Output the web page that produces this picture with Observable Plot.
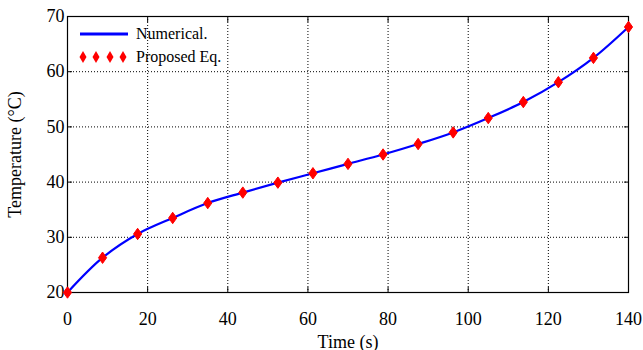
<!DOCTYPE html>
<html>
<head>
<meta charset="utf-8">
<script src="https://cdn.jsdelivr.net/npm/d3@7"></script>
<script src="https://cdn.jsdelivr.net/npm/@observablehq/plot@0.6"></script>
<style>
  html, body { margin: 0; padding: 0; background: white; }
  #wrap { position: relative; width: 643px; height: 350px; }
  #chart svg text { font-family: "Liberation Serif", "Times New Roman", serif !important; font-variant-numeric: normal !important; font-size: 18px !important; }
  #legend { position: absolute; left: 78px; top: 22px; font-family: "Liberation Serif", serif; font-size: 16px; color: black; }
  #legend .row { display: flex; align-items: center; height: 23px; }
  #legend svg { margin-right: 6px; }
</style>
</head>
<body>
<div id="wrap">
  <div id="chart"></div>
  <div id="legend"></div>
</div>
<script>
// Data
const timeS = [0, 8.75, 17.5, 26.25, 35, 43.75, 52.5, 61.25, 70, 78.75, 87.5, 96.25, 105, 113.75, 122.5, 131.25, 140];
const numericalT = [20, 26.3, 30.6, 33.5, 36.2, 38.1, 39.9, 41.6, 43.3, 45.0, 46.9, 49.0, 51.6, 54.5, 58.1, 62.5, 68.1];
const proposedT = [20, 26.3, 30.6, 33.5, 36.2, 38.1, 39.9, 41.6, 43.3, 45.0, 46.9, 49.0, 51.6, 54.5, 58.1, 62.5, 68.1];
const xTicks = [0, 20, 40, 60, 80, 100, 120, 140];
const yTicks = [20, 30, 40, 50, 60, 70];
const seriesNames = ["Numerical.", "Proposed Eq."];

const lineData = timeS.map((t, i) => ({t, v: numericalT[i]}));
const dotData = timeS.map((t, i) => ({t, v: proposedT[i]}));

const tallDiamond = {
  draw(context, size) {
    const r = Math.sqrt(size) / 2;
    context.moveTo(0, -r * 1.4);
    context.lineTo(r, 0);
    context.lineTo(0, r * 1.4);
    context.lineTo(-r, 0);
    context.closePath();
  }
};

const font = "Liberation Serif";
const chart = Plot.plot({
  width: 643,
  height: 350,
  marginLeft: 67,
  marginRight: 15,
  marginTop: 16,
  marginBottom: 58,
  style: {fontFamily: font, fontSize: "18px", color: "black", background: "white", overflow: "visible"},
  x: {domain: [0, 140]},
  y: {domain: [20, 70]},
  marks: [
    Plot.gridX(xTicks, {stroke: "black", strokeOpacity: 1, strokeDasharray: "1,2"}),
    Plot.gridY(yTicks, {stroke: "black", strokeOpacity: 1, strokeDasharray: "1,2"}),
    Plot.axisX(xTicks, {tickSize: 0, tickPadding: 20, fontSize: 18, fontFamily: font, label: null}),
    Plot.axisX({ticks: [], tickSize: 0, fontSize: 18, fontFamily: font, label: "Time (s)", labelAnchor: "center", labelArrow: "none", labelOffset: 55}),
    Plot.axisX(xTicks, {tickSize: -5, tickFormat: () => "", label: null}),
    Plot.axisX(xTicks, {anchor: "top", tickSize: -5, tickFormat: () => "", label: null}),
    Plot.axisY(yTicks, {tickSize: 0, tickPadding: 3, fontSize: 18, fontFamily: font, label: null}),
    Plot.axisY({ticks: [], tickSize: 0, fontSize: 18, fontFamily: font, label: "Temperature (°C)", labelAnchor: "center", labelArrow: "none", labelOffset: 59}),
    Plot.axisY(yTicks, {tickSize: -5, tickFormat: () => "", label: null}),
    Plot.axisY(yTicks, {anchor: "right", tickSize: -5, tickFormat: () => "", label: null}),
    Plot.frame({stroke: "black", strokeWidth: 1.2}),
    Plot.line(lineData, {x: "t", y: "v", stroke: "#0000ff", strokeWidth: 2.2, curve: "catmull-rom"}),
    Plot.dot(dotData, {x: "t", y: "v", fill: "red", stroke: "red", strokeWidth: 1, symbol: tallDiamond, r: 4.6})
  ]
});
document.getElementById("chart").appendChild(chart);

const legend = document.getElementById("legend");
legend.innerHTML = `
  <div class="row"><svg width="52" height="10"><line x1="2" x2="50" y1="5" y2="5" stroke="#0000ff" stroke-width="3"/></svg><span>${seriesNames[0]}</span></div>
  <div class="row"><svg width="52" height="14">${[5, 18, 32, 45].map(x => `<path d="M${x},1L${x+3.5},7L${x},13L${x-3.5},7Z" fill="red"/>`).join("")}</svg><span>${seriesNames[1]}</span></div>`;
</script>
</body>
</html>
